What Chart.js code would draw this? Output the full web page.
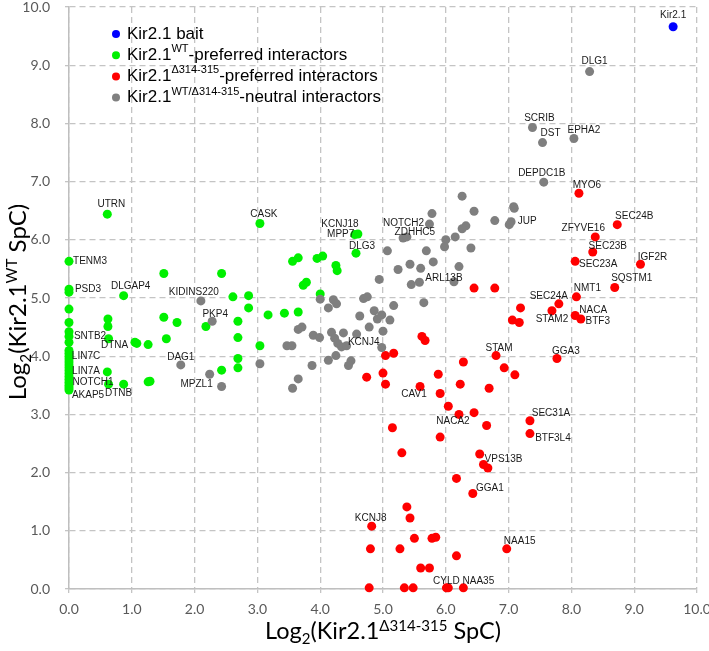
<!DOCTYPE html>
<html>
<head>
<meta charset="utf-8">
<script src="https://cdn.jsdelivr.net/npm/chart.js@4/dist/chart.umd.min.js"></script>
<style>
  html, body { margin: 0; padding: 0; background: #fff; }
</style>
</head>
<body>
<canvas id="kirChart" width="709" height="651"></canvas>
<script>
// bait
const BAIT_X = [9.62];
const BAIT_Y = [9.66];
const BAIT_NAMES = ['Kir2.1'];

// WT-preferred interactors (green)
const WT_X = [0.61, 3.04, 4.60, 4.55, 4.57, 0, 0, 0, 1.51, 2.43, 3.56, 3.65, 3.95, 4.04, 4.25, 4.27, 3.73, 3.78, 4.00,
  0.87, 2.61, 2.86, 2.86, 3.17, 3.43, 3.65, 0, 0, 0.62, 0.62, 1.51, 1.72, 2.18, 2.69, 2.69, 1.55, 0, 0, 0,
  0.63, 1.05, 1.08, 1.26, 3.04, 2.69, 2.69, 2.43, 0.61, 0.63, 0.87, 1.26, 1.29,
  0, 0, 0, 0, 0, 0, 0, 0, 0, 0, 0, 0, 0, 0, 0];
const WT_Y = [6.44, 6.28, 6.10, 6.09, 5.77, 5.63, 5.15, 5.10, 5.42, 5.42, 5.63, 5.69, 5.68, 5.72, 5.56, 5.47, 5.22, 5.27, 5.07,
  5.04, 5.02, 5.04, 4.83, 4.71, 4.74, 4.76, 4.81, 4.58, 4.64, 4.51, 4.67, 4.58, 4.51, 4.60, 4.32, 4.30, 4.42, 4.34, 4.24,
  4.30, 4.24, 4.22, 4.20, 4.18, 3.96, 3.80, 3.76, 3.73, 3.52, 3.52, 3.56, 3.57,
  4.10, 4.05, 4.00, 3.95, 3.90, 3.85, 3.80, 3.75, 3.70, 3.65, 3.60, 3.55, 3.50, 3.46, 3.42];
const WT_NAMES = ['UTRN', 'CASK', 'KCNJ18', 'MPP7', 'DLG3', 'TENM3', 'PSD3', '', '', '', '', '', '', '', '', '', '', '', '',
  'DLGAP4', '', '', '', '', '', '', '', '', '', '', '', '', '', '', '', '', '', 'SNTB2', '',
  'DTNA', '', '', '', '', '', '', '', '', '', 'DTNB', '', '',
  '', '', 'LIN7C', '', '', '', '', 'LIN7A', '', '', '', 'NOTCH1', '', '', 'AKAP5'];

// delta314-315-preferred interactors (red)
const DEL_X = [8.12, 8.73, 8.38, 8.34, 8.06, 9.10, 8.69, 8.08, 7.80, 7.69, 7.19, 7.06, 7.17, 8.06, 8.15, 6.45, 6.78,
  5.62, 5.67, 5.04, 5.17, 6.80, 7.77, 6.28, 6.93, 7.10, 4.74, 5.00, 5.88, 5.04, 6.23, 5.59, 6.69, 5.91, 6.04,
  6.21, 6.45, 7.34, 6.65, 7.34, 5.91, 5.15, 5.30, 6.54, 6.60, 6.67, 6.17, 6.43, 5.38, 5.43, 4.82, 5.50, 5.78,
  5.84, 4.80, 5.27, 6.97, 6.17, 5.60, 5.74, 4.78, 5.34, 5.48, 6.01, 6.04, 6.28];
const DEL_Y = [6.80, 6.26, 6.05, 5.79, 5.63, 5.58, 5.18, 5.02, 4.90, 4.78, 4.83, 4.62, 4.58, 4.70, 4.64, 5.17, 5.17,
  4.34, 4.27, 4.01, 4.05, 4.01, 3.96, 3.90, 3.80, 3.68, 3.64, 3.71, 3.69, 3.52, 3.52, 3.48, 3.45, 3.36, 3.14,
  3.00, 3.03, 2.89, 2.81, 2.67, 2.61, 2.77, 2.34, 2.32, 2.14, 2.08, 1.90, 1.64, 1.41, 1.22, 1.08, 0.87, 0.87,
  0.89, 0.69, 0.69, 0.69, 0.57, 0.36, 0.36, 0.02, 0.02, 0.02, 0.02, 0.02, 0.02];
const DEL_NAMES = ['MYO6', 'SEC24B', 'ZFYVE16', 'SEC23B', 'SEC23A', 'IGF2R', 'SQSTM1', 'NMT1', 'SEC24A', 'STAM2', '', '', '', 'NACA', 'BTF3', '', '',
  '', '', '', '', 'STAM', 'GGA3', '', '', '', '', '', '', '', '', 'CAV1', '', '', '',
  'NACA2', '', 'SEC31A', '', 'BTF3L4', '', '', '', '', 'VPS13B', '', '', 'GGA1', '', '', 'KCNJ8', '', '',
  '', '', '', 'NAA15', '', '', '', '', '', '', 'CYLD', '', 'NAA35'];

// neutral interactors (gray)
const NEU_X = [8.29, 7.38, 7.54, 8.04, 7.56, 6.26, 6.45, 7.08, 7.09, 6.78, 7.04, 7.01, 6.32, 6.26, 6.15, 6.40, 6.21, 6.13,
  5.74, 5.78, 5.32, 5.38, 6.00, 5.98, 5.07, 5.69, 5.80, 5.43, 5.60, 5.24, 4.94, 5.58, 5.45, 4.69, 4.75, 5.17, 5.65,
  4.86, 4.63, 4.91, 4.98, 5.11, 4.78, 5.00, 4.58, 4.98, 4.00, 4.13, 4.21, 4.26, 3.65, 3.71, 3.89, 3.99, 4.18, 4.37,
  4.23, 4.28, 4.34, 4.42, 3.47, 3.55, 4.13, 4.25, 4.49, 4.45, 3.87, 3.65, 3.56, 2.10, 2.28, 1.78, 2.24, 2.43, 3.04];
const NEU_Y = [8.89, 7.93, 7.67, 7.74, 6.99, 6.75, 6.49, 6.57, 6.54, 6.33, 6.31, 6.26, 6.24, 6.19, 6.05, 5.86, 5.54, 5.28,
  6.27, 6.45, 6.03, 6.05, 6.00, 5.88, 5.81, 5.81, 5.62, 5.58, 5.51, 5.49, 5.32, 5.27, 5.23, 4.99, 5.02, 4.87, 4.92,
  4.78, 4.69, 4.64, 4.71, 4.62, 4.50, 4.43, 4.38, 4.15, 4.98, 4.83, 4.97, 4.90, 4.46, 4.50, 4.36, 4.32, 4.41, 4.40,
  4.31, 4.22, 4.16, 4.18, 4.18, 4.18, 3.93, 4.01, 3.92, 3.84, 3.84, 3.61, 3.45, 4.95, 4.60, 3.85, 3.69, 3.48, 3.87];
const NEU_NAMES = ['DLG1', 'SCRIB', 'DST', 'EPHA2', 'DEPDC1B', '', '', '', '', '', 'JUP', '', '', '', '', '', '', 'ARL13B',
  'NOTCH2', '', '', 'ZDHHC5', '', '', '', '', '', '', '', '', '', '', '', '', '', '', '',
  '', '', '', '', '', '', '', '', 'KCNJ4', '', '', '', '', '', '', '', '', '', '',
  '', '', '', '', '', '', '', '', '', '', '', '', '', 'KIDINS220', 'PKP4', 'DAG1', '', 'MPZL1', ''];

// where each gene label sits relative to its dot (px)
const LABEL_OFFSET = {
  'Kir2.1': [0, -12], DLG1: [5, -10], SCRIB: [7, -9], DST: [8, -9], EPHA2: [10, -8], DEPDC1B: [-2, -9],
  MYO6: [8, -8], SEC24B: [17, -8], ZFYVE16: [-12, -9], SEC23B: [15, -6], SEC23A: [23, 3], IGF2R: [12, -7],
  SQSTM1: [17, -9], NMT1: [11, -9], SEC24A: [-10, -8], STAM2: [0, 8], NACA: [18, -5], BTF3: [17, 2],
  JUP: [16, -1], NOTCH2: [-26, -1], ZDHHC5: [8, -5], ARL13B: [-10, -3], KCNJ4: [-18, -5], STAM: [3, -7],
  GGA3: [9, -7], CAV1: [-6, 8], NACA2: [-6, 7], SEC31A: [21, -8], BTF3L4: [23, 5], VPS13B: [20, -5],
  GGA1: [17, -5], KCNJ8: [-1, -8], NAA15: [13, -8], CYLD: [0, -7], NAA35: [15, -7],
  UTRN: [4, -10], CASK: [4, -9], KCNJ18: [-18, -10], MPP7: [-14, 0], DLG3: [6, -7], TENM3: [21, 0],
  PSD3: [19, 0], DLGAP4: [7, -9], KIDINS220: [-7, -9], PKP4: [3, -7], SNTB2: [21, 0], DTNA: [6, 7],
  DAG1: [0, -8], MPZL1: [-25, -2], LIN7C: [17, 0], LIN7A: [17, 0], NOTCH1: [24, 0], AKAP5: [19, 5],
  DTNB: [-5, 9]
};

function pts(xs, ys) {
  return xs.map((x, i) => ({ x: x, y: ys[i] }));
}

const FAMILY = 'Lato, "Liberation Sans", sans-serif';

// draws text with sub/superscript parts; align: 'center' or 'left'
function drawRich(ctx, parts, x, y, size, align) {
  const small = size * 0.64;
  let w = 0;
  parts.forEach(p => {
    ctx.font = (p[1] ? small : size) + 'px ' + FAMILY;
    w += ctx.measureText(p[0]).width;
  });
  let cx = align === 'center' ? x - w / 2 : x;
  ctx.textAlign = 'left';
  ctx.textBaseline = 'alphabetic';
  parts.forEach(p => {
    ctx.font = (p[1] ? small : size) + 'px ' + FAMILY;
    let dy = 0;
    if (p[1] === 'sup') dy = -size * 0.36;
    if (p[1] === 'sub') dy = size * 0.22;
    ctx.fillText(p[0], cx, y + dy);
    cx += ctx.measureText(p[0]).width;
  });
}

const pointLabels = {
  id: 'pointLabels',
  afterDatasetsDraw(chart) {
    const ctx = chart.ctx;
    ctx.save();
    ctx.font = '10px "Liberation Sans", Arial, sans-serif';
    ctx.fillStyle = '#1a1a1a';
    ctx.textAlign = 'center';
    ctx.textBaseline = 'middle';
    chart.data.datasets.forEach((ds, di) => {
      const meta = chart.getDatasetMeta(di);
      ds.names.forEach((n, i) => {
        if (!n) return;
        const p = meta.data[i];
        const off = LABEL_OFFSET[n] || [0, -9];
        ctx.fillText(n, p.x + off[0], p.y + off[1]);
      });
    });
    ctx.restore();
  }
};

const LEGEND_ITEMS = [
  ['#0000ff', [['Kir2.1 bait', '']]],
  ['#00f000', [['Kir2.1', ''], ['WT', 'sup'], ['-preferred interactors', '']]],
  ['#ff0000', [['Kir2.1', ''], ['\u0394314-315', 'sup'], ['-preferred interactors', '']]],
  ['#808080', [['Kir2.1', ''], ['WT/\u0394314-315', 'sup'], ['-neutral interactors', '']]]
];

const decorations = {
  id: 'decorations',
  afterDraw(chart) {
    const ctx = chart.ctx;
    ctx.save();
    // legend
    LEGEND_ITEMS.forEach((item, i) => {
      const y = 34 + i * 21.2;
      ctx.fillStyle = item[0];
      ctx.beginPath();
      ctx.arc(116, y, 4, 0, Math.PI * 2);
      ctx.fill();
      ctx.fillStyle = '#000';
      const parts = item[1];
      let cx = 127;
      ctx.textBaseline = 'middle';
      parts.forEach(p => {
        ctx.font = (p[1] ? 11 : 17) + 'px "Liberation Sans", Arial, sans-serif';
        ctx.fillText(p[0], cx, p[1] ? y - 6 : y);
        cx += ctx.measureText(p[0]).width;
      });
    });
    // axis titles
    ctx.fillStyle = '#000';
    drawRich(ctx, [['Log', ''], ['2', 'sub'], ['(Kir2.1', ''], ['\u0394314-315', 'sup'], [' SpC)', '']], 383, 639, 23.5, 'center');
    ctx.translate(26, 302);
    ctx.rotate(-Math.PI / 2);
    drawRich(ctx, [['Log', ''], ['2', 'sub'], ['(Kir2.1', ''], ['WT', 'sup'], [' SpC)', '']], 0, 0, 24, 'center');
    ctx.restore();
  }
};

function series(xs, ys, names, color) {
  return {
    data: pts(xs, ys),
    names: names,
    backgroundColor: color,
    borderWidth: 0,
    pointRadius: 4.5,
    pointHoverRadius: 4.5,
    clip: false
  };
}

const GRID = {
  color: '#c4c4c4',
  lineWidth: 1.3,
  tickLength: 4
};

new Chart(document.getElementById('kirChart'), {
  type: 'scatter',
  data: {
    datasets: [
      series(NEU_X, NEU_Y, NEU_NAMES, '#7f7f7f'),
      series(DEL_X, DEL_Y, DEL_NAMES, '#ff0000'),
      series(WT_X, WT_Y, WT_NAMES, '#00f000'),
      series(BAIT_X, BAIT_Y, BAIT_NAMES, '#0000ff')
    ]
  },
  options: {
    responsive: false,
    animation: false,
    layout: { padding: { top: 7, right: 12, left: 0, bottom: 0 } },
    plugins: {
      legend: { display: false },
      tooltip: { enabled: false }
    },
    scales: {
      x: {
        type: 'linear',
        min: 0,
        max: 10,
        ticks: {
          stepSize: 1,
          padding: 8,
          color: '#595959',
          font: { family: FAMILY, size: 14 },
          callback: v => v.toFixed(1)
        },
        grid: GRID,
        border: { color: '#bfbfbf', width: 1.5, dash: [6, 4] },
        afterFit: s => {
          s.height = 62;
          s.paddingLeft = 0;
          s.paddingRight = 0;
        }
      },
      y: {
        type: 'linear',
        min: 0,
        max: 10,
        ticks: {
          stepSize: 1,
          padding: 15,
          color: '#595959',
          font: { family: FAMILY, size: 14 },
          callback: v => v.toFixed(1)
        },
        grid: GRID,
        border: { color: '#bfbfbf', width: 1.5, dash: [6, 4] },
        afterFit: s => {
          s.width = 69;
          s.paddingTop = 0;
          s.paddingBottom = 0;
        }
      }
    }
  },
  plugins: [pointLabels, decorations]
});
</script>
</body>
</html>
